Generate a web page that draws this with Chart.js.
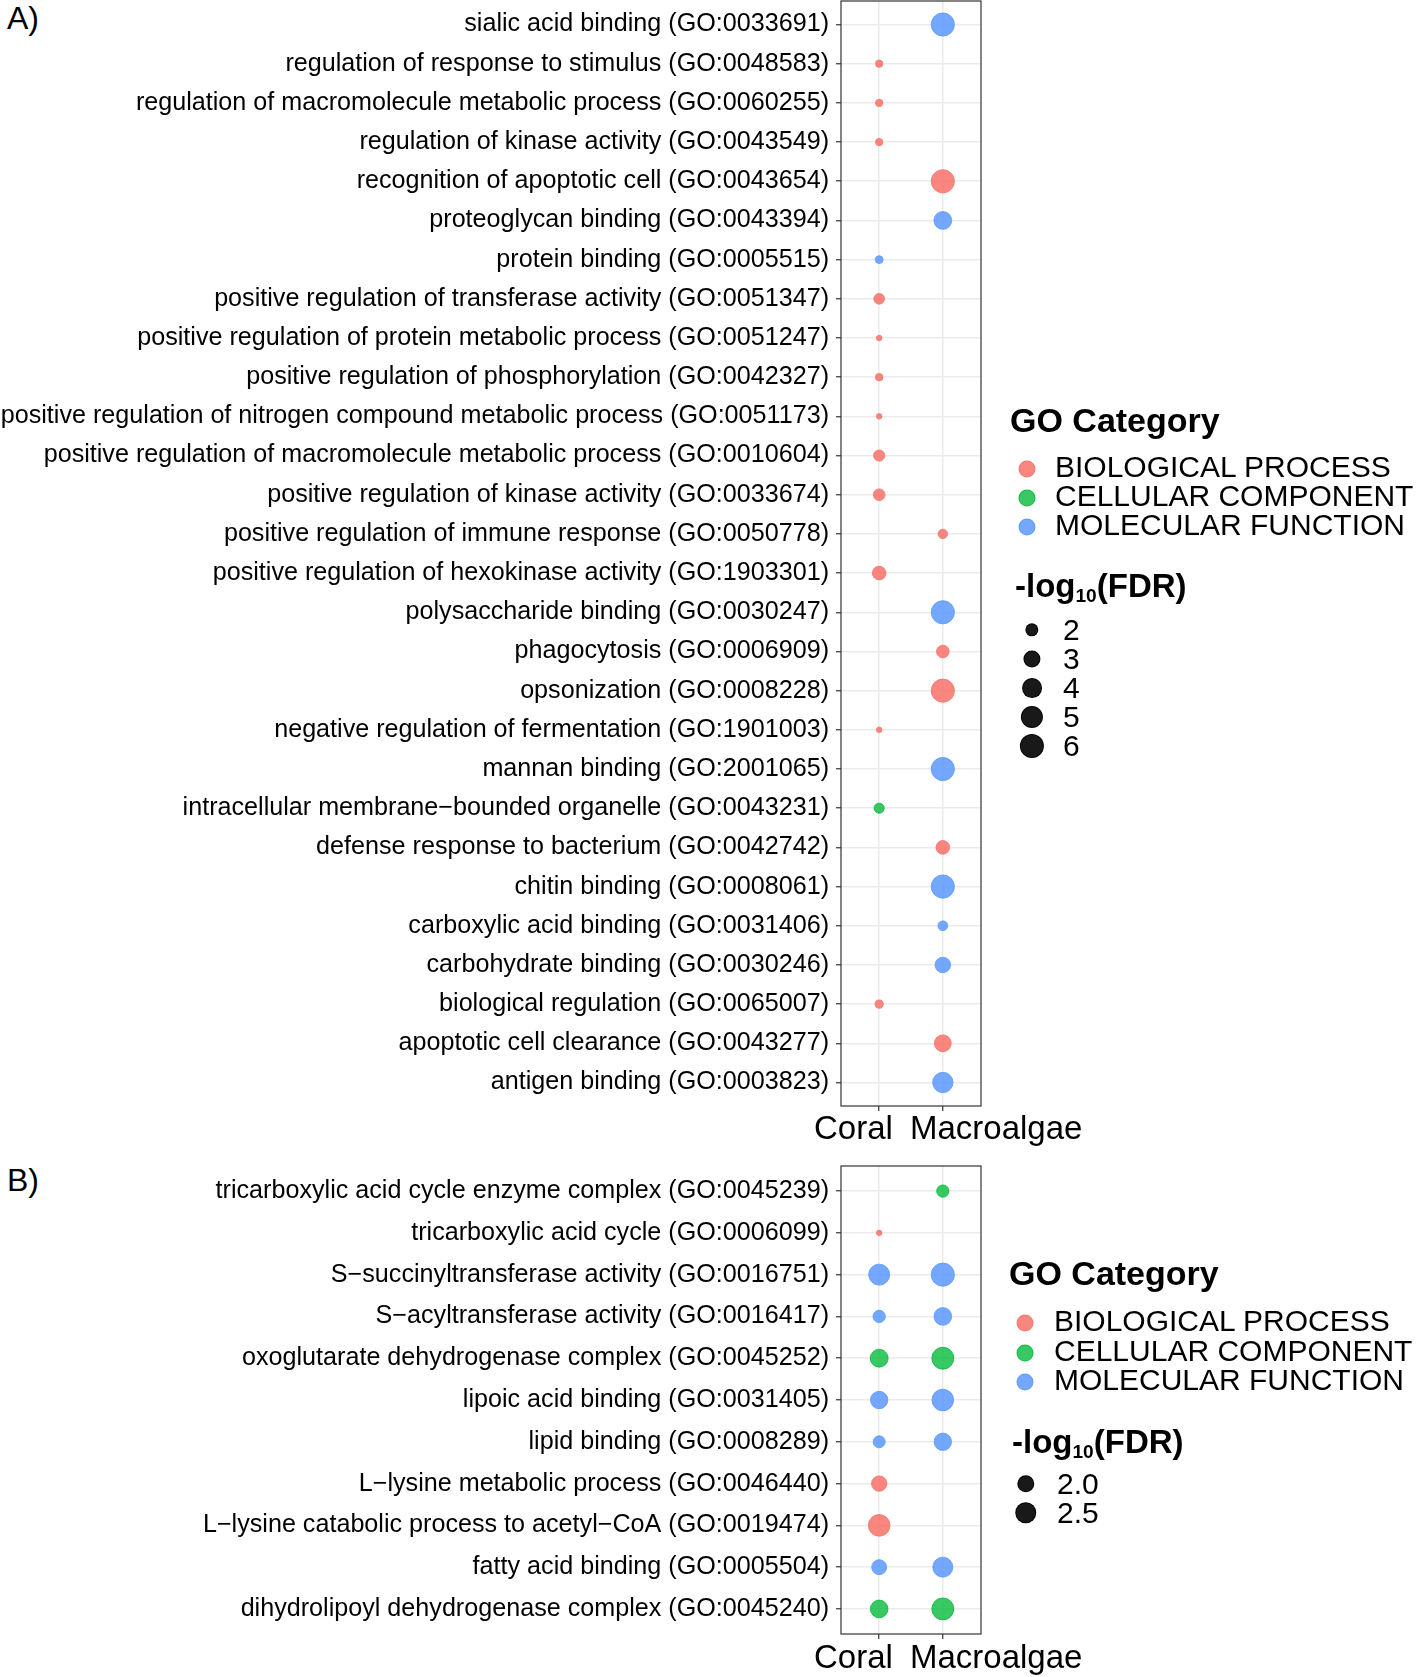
<!DOCTYPE html>
<html><head><meta charset="utf-8">
<script src="https://cdn.jsdelivr.net/npm/chart.js@4.4.1/dist/chart.umd.min.js"></script>
<style>
html,body{margin:0;padding:0;background:#fff;}
body{width:1416px;height:1677px;position:relative;overflow:hidden;font-family:"Liberation Sans",Arial,sans-serif;color:#000;}
canvas{position:absolute;left:0;}
.abs{position:absolute;white-space:nowrap;line-height:1;}
.t{position:absolute;white-space:nowrap;line-height:1;transform:translateY(-50%);}
.dot{position:absolute;border-radius:50%;transform:translate(-50%,-50%);box-sizing:border-box;}
sub{font-size:58%;vertical-align:-0.28em;line-height:0;}
</style></head><body>
<div class="abs" style="left:7px;top:2px;font-size:32px;">A)</div>
<div class="abs" style="left:7px;top:1164px;font-size:32px;">B)</div>
<canvas id="cA" width="1040" height="1150" style="top:0;"></canvas>
<canvas id="cB" width="1040" height="512" style="top:1165px;"></canvas>
<div id="legends"></div>
<script>
// ---------- DATA ----------
const groups = ['Coral', 'Macroalgae'];

const termsA = [
  'sialic acid binding (GO:0033691)',
  'regulation of response to stimulus (GO:0048583)',
  'regulation of macromolecule metabolic process (GO:0060255)',
  'regulation of kinase activity (GO:0043549)',
  'recognition of apoptotic cell (GO:0043654)',
  'proteoglycan binding (GO:0043394)',
  'protein binding (GO:0005515)',
  'positive regulation of transferase activity (GO:0051347)',
  'positive regulation of protein metabolic process (GO:0051247)',
  'positive regulation of phosphorylation (GO:0042327)',
  'positive regulation of nitrogen compound metabolic process (GO:0051173)',
  'positive regulation of macromolecule metabolic process (GO:0010604)',
  'positive regulation of kinase activity (GO:0033674)',
  'positive regulation of immune response (GO:0050778)',
  'positive regulation of hexokinase activity (GO:1903301)',
  'polysaccharide binding (GO:0030247)',
  'phagocytosis (GO:0006909)',
  'opsonization (GO:0008228)',
  'negative regulation of fermentation (GO:1901003)',
  'mannan binding (GO:2001065)',
  'intracellular membrane\u2212bounded organelle (GO:0043231)',
  'defense response to bacterium (GO:0042742)',
  'chitin binding (GO:0008061)',
  'carboxylic acid binding (GO:0031406)',
  'carbohydrate binding (GO:0030246)',
  'biological regulation (GO:0065007)',
  'apoptotic cell clearance (GO:0043277)',
  'antigen binding (GO:0003823)'
];
const catA = ['MF','BP','BP','BP','BP','MF','MF','BP','BP','BP','BP','BP','BP','BP',
              'BP','MF','BP','BP','BP','MF','CC','BP','MF','MF','MF','BP','BP','MF'];
const coralA = [null,1.35,1.35,1.35,null,null,1.38,1.70,1.30,1.36,1.30,1.77,1.87,null,
                2.28,null,null,null,1.30,null,1.62,null,null,null,null,1.41,null,null];
const macroA = [6.0,null,null,null,6.0,3.57,null,null,null,null,null,null,null,1.53,
                null,6.0,2.06,6.0,null,6.0,null,2.28,6.0,1.57,2.8,null,3.23,4.59];
const sizeBreaksA = ['2', '3', '4', '5', '6'];

const termsB = [
  'tricarboxylic acid cycle enzyme complex (GO:0045239)',
  'tricarboxylic acid cycle (GO:0006099)',
  'S\u2212succinyltransferase activity (GO:0016751)',
  'S\u2212acyltransferase activity (GO:0016417)',
  'oxoglutarate dehydrogenase complex (GO:0045252)',
  'lipoic acid binding (GO:0031405)',
  'lipid binding (GO:0008289)',
  'L\u2212lysine metabolic process (GO:0046440)',
  'L\u2212lysine catabolic process to acetyl\u2212CoA (GO:0019474)',
  'fatty acid binding (GO:0005504)',
  'dihydrolipoyl dehydrogenase complex (GO:0045240)'
];
const catB = ['CC','BP','MF','MF','CC','MF','MF','BP','BP','MF','CC'];
const coralB = [null,1.43,2.57,1.65,2.16,2.10,1.63,1.89,2.67,1.85,2.13];
const macroB = [1.65,null,2.92,2.13,2.72,2.67,2.10,null,null,2.43,2.72];
const sizeBreaksB = ['2.0', '2.5'];

const catOrder = ['BP','CC','MF'];
const catNames = ['BIOLOGICAL PROCESS','CELLULAR COMPONENT','MOLECULAR FUNCTION'];
const catColors = ['rgba(248,118,109,0.88)','rgba(0,186,56,0.78)','rgba(97,156,255,0.88)'];

// ---------- HELPERS ----------
function sizePx(v, lo, hi) { // ggplot-like area scale: diameter in px
  const t = hi > lo ? Math.max(0, (v - lo) / (hi - lo)) : 0;
  return 3.54 * (1 + 5 * Math.sqrt(t)) + 2.95;
}

const boxPlugin = {
  id: 'box',
  afterDatasetsDraw(chart) {
    const {ctx, chartArea: a} = chart;
    ctx.save();
    ctx.strokeStyle = '#333333';
    ctx.lineWidth = 1.2;
    ctx.strokeRect(a.left, a.top, a.right - a.left, a.bottom - a.top);
    ctx.restore();
  }
};

function makePanel(canvasId, terms, cats, coral, macro, xAxisH) {
  const n = terms.length;
  const all = coral.concat(macro).filter(v => v !== null);
  const lo = Math.min(...all), hi = Math.max(...all);
  const datasets = catOrder.map((c, k) => {
    const pts = [];
    terms.forEach((t, i) => {
      if (cats[i] !== c) return;
      [coral, macro].forEach((arr, j) => {
        if (arr[i] !== null) pts.push({x: j + 1, y: n - i, v: arr[i]});
      });
    });
    return {
      label: catNames[k], data: pts,
      backgroundColor: catColors[k], borderColor: catColors[k], borderWidth: 1,
      pointRadius: ctx => (sizePx(ctx.raw.v, lo, hi) - 1) / 2,
      pointHoverRadius: ctx => (sizePx(ctx.raw.v, lo, hi) - 1) / 2
    };
  });
  new Chart(document.getElementById(canvasId), {
    type: 'scatter',
    data: {datasets},
    plugins: [boxPlugin],
    options: {
      responsive: false, animation: false, devicePixelRatio: 1,
      layout: {autoPadding: false, padding: {top: 1, right: 59, bottom: 0, left: 0}},
      plugins: {legend: {display: false}, tooltip: {enabled: false}},
      scales: {
        x: {
          type: 'linear', min: 0.4, max: 2.6,
          afterBuildTicks: s => { s.ticks = groups.map((g, j) => ({value: j + 1})); },
          afterFit: s => { s.height = xAxisH; s.paddingLeft = 0; s.paddingRight = 0; },
          border: {display: false},
          grid: {color: '#EBEBEB', lineWidth: 1.5, tickColor: '#333333', tickWidth: 1.2, tickLength: 5, drawTicks: true},
          ticks: {display: false}
        },
        y: {
          type: 'linear', min: 0.4, max: n + 0.6,
          afterBuildTicks: s => { s.ticks = terms.map((t, i) => ({value: i + 1})); },
          afterFit: s => { s.width = 841; s.paddingTop = 0; s.paddingBottom = 0; },
          border: {display: false},
          grid: {color: '#EBEBEB', lineWidth: 1.5, tickColor: '#333333', tickWidth: 1.2, tickLength: 5, drawTicks: true},
          ticks: {
            autoSkip: false, padding: 7, color: '#000',
            font: {family: '"Liberation Sans", Arial, sans-serif', size: 25.15},
            callback: v => terms[n - Math.round(v)]
          }
        }
      }
    }
  });
  return {lo, hi};
}

const rA = makePanel('cA', termsA, catA, coralA, macroA, 44);
const rB = makePanel('cB', termsB, catB, coralB, macroB, 43);

// ---------- AXIS GROUP LABELS + LEGENDS ----------
const L = document.getElementById('legends');
function addText(txt, x, y, size, bold) {
  const d = document.createElement('div');
  d.className = 't';
  d.style.left = x + 'px'; d.style.top = y + 'px';
  d.style.fontSize = size + 'px';
  if (bold) d.style.fontWeight = 'bold';
  d.innerHTML = txt;
  L.appendChild(d);
}
function addDot(x, y, diam, color) {
  const d = document.createElement('div');
  d.className = 'dot';
  d.style.left = x + 'px'; d.style.top = y + 'px';
  d.style.width = diam + 'px'; d.style.height = diam + 'px';
  d.style.background = color;
  d.style.border = '1px solid ' + color;
  L.appendChild(d);
}
// x category labels
[[1127, [814, 910]], [1656, [814, 910]]].forEach(([y, xs]) => {
  groups.forEach((g, j) => addText(g, xs[j], y, 33, false));
});

function legend(cfg, breaks, lo, hi) {
  addText('GO Category', cfg.titleX, cfg.titleY, 34, true);
  catNames.forEach((nm, k) => {
    addDot(cfg.dotX, cfg.itemY[k] + 2, 17, catColors[k]);
    addText(nm, cfg.textX, cfg.itemY[k], 30, false);
  });
  addText('-log<sub>10</sub>(FDR)', cfg.sizeTitleX, cfg.sizeTitleY, 33, true);
  breaks.forEach((b, k) => {
    const y = cfg.sizeY0 + k * 29;
    addDot(cfg.sizeDotX, y, sizePx(parseFloat(b), lo, hi), 'rgba(0,0,0,0.9)');
    addText(b, cfg.sizeTextX, y, 30, false);
  });
}
legend({titleX: 1010, titleY: 420, dotX: 1027, textX: 1055, itemY: [467, 496, 525],
        sizeTitleX: 1015, sizeTitleY: 585, sizeDotX: 1032, sizeTextX: 1063, sizeY0: 630},
       sizeBreaksA, rA.lo, rA.hi);
legend({titleX: 1009, titleY: 1273, dotX: 1025, textX: 1054, itemY: [1321, 1351, 1380],
        sizeTitleX: 1012, sizeTitleY: 1441, sizeDotX: 1026, sizeTextX: 1057, sizeY0: 1484},
       sizeBreaksB, rB.lo, rB.hi);
</script>
</body></html>
